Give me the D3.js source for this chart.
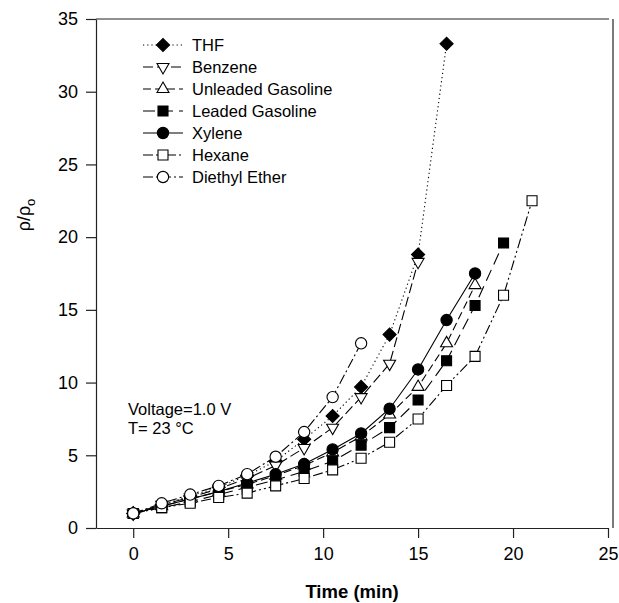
<!DOCTYPE html>
<html>
<head>
<meta charset="utf-8">
<script src="https://cdn.jsdelivr.net/npm/d3@7"></script>
<style>
  body { margin: 0; background: #fff; }
  svg text { font-family: "Liberation Sans", Arial, sans-serif; fill: #000; }
</style>
</head>
<body>
<div id="chart"></div>
<script>
// sampling times (min), every 1.5 min
const times = [0, 1.5, 3, 4.5, 6, 7.5, 9, 10.5, 12, 13.5, 15, 16.5, 18, 19.5, 21];

// rho/rho0
const thf      = [1, 1.6, 2.2, 2.8, 3.6, 4.6, 6.1, 7.7, 9.7, 13.3, 18.8, 33.3];
const benzene  = [1, 1.6, 2.1, 2.7, 3.4, 4.3, 5.5, 6.9, 9.0, 11.3, 18.3];
const unleaded = [1, 1.5, 2.0, 2.5, 3.0, 3.6, 4.3, 5.2, 6.3, 7.8, 9.7, 12.7, 16.7];
const leaded   = [1, 1.4, 1.8, 2.3, 2.8, 3.3, 3.9, 4.6, 5.7, 6.9, 8.8, 11.5, 15.3, 19.6];
const xylene   = [1, 1.5, 2.0, 2.5, 3.1, 3.7, 4.4, 5.4, 6.5, 8.2, 10.9, 14.3, 17.5];
const hexane   = [1, 1.4, 1.7, 2.1, 2.4, 2.9, 3.4, 4.0, 4.8, 5.9, 7.5, 9.8, 11.8, 16.0, 22.5];
const diethyl  = [1, 1.7, 2.3, 2.9, 3.7, 4.9, 6.6, 9.0, 12.7];

const seriesNames = ["THF", "Benzene", "Unleaded Gasoline", "Leaded Gasoline", "Xylene", "Hexane", "Diethyl Ether"];
const seriesValues = [thf, benzene, unleaded, leaded, xylene, hexane, diethyl];

const xTicks = [0, 5, 10, 15, 20, 25];
const yTicks = [0, 5, 10, 15, 20, 25, 30, 35];

// marker / dash style per series
const styles = [
    { shape: "diamond", fill: "#000", dash: "1.2,3" },
    { shape: "down",    fill: "#fff", dash: "10,4" },
    { shape: "up",      fill: "#fff", dash: "8,4" },
    { shape: "square",  fill: "#000", dash: "12,6" },
    { shape: "circle",  fill: "#000", dash: null },
    { shape: "square",  fill: "#fff", dash: "10,3,2,3,2,3" },
    { shape: "circle",  fill: "#fff", dash: "10,3,2,3" }
];

const W = 619, H = 603;
const plot = { left: 96, right: 608, top: 19, bottom: 528 };

const svg = d3.select("#chart").append("svg")
    .attr("width", W)
    .attr("height", H);

const x = d3.scaleLinear().domain([-1.96, 25]).range([plot.left, plot.right]);
const y = d3.scaleLinear().domain([0, 35]).range([plot.bottom, plot.top]);

function symbolPath(shape) {
    if (shape === "diamond") return d3.symbol(d3.symbolSquare, 86)();
    if (shape === "square") return d3.symbol(d3.symbolSquare, 100)();
    if (shape === "circle") return d3.symbol(d3.symbolCircle, 100)();
    return d3.symbol(d3.symbolTriangle, 62)();
}
function symbolRotate(shape) {
    if (shape === "diamond") return 45;
    if (shape === "down") return 180;
    return 0;
}

// axes
const xAxis = d3.axisBottom(x).tickValues(xTicks).tickSize(10).tickSizeOuter(0).tickPadding(9);
const yAxis = d3.axisLeft(y).tickValues(yTicks).tickSize(10).tickSizeOuter(0).tickPadding(8);

const gx = svg.append("g")
    .attr("transform", `translate(0,${plot.bottom})`)
    .call(xAxis);
const gy = svg.append("g")
    .attr("transform", `translate(${plot.left},0)`)
    .call(yAxis);

[gx, gy].forEach(g => {
    g.selectAll("path, line").attr("stroke", "#222").attr("stroke-width", 1.2);
    g.selectAll("text").style("font-size", "18px").attr("fill", "#000");
});

// top and right frame
svg.append("line")
    .attr("x1", plot.left).attr("x2", plot.right + 1)
    .attr("y1", plot.top).attr("y2", plot.top)
    .attr("stroke", "#222").attr("stroke-width", 1.2);
svg.append("line")
    .attr("x1", plot.right + 5).attr("x2", plot.right + 5)
    .attr("y1", plot.top).attr("y2", plot.bottom)
    .attr("stroke", "#222").attr("stroke-width", 1.2);

// axis titles
svg.append("text")
    .attr("x", (plot.left + plot.right) / 2)
    .attr("y", 598)
    .attr("text-anchor", "middle")
    .style("font-size", "18.5px")
    .style("font-weight", "bold")
    .text("Time (min)");

const ylab = svg.append("text")
    .attr("transform", `translate(30,215) rotate(-90)`)
    .attr("text-anchor", "middle")
    .style("font-size", "18px");
ylab.append("tspan").text("ρ/ρ");
ylab.append("tspan").attr("dy", 5).style("font-size", "13px").text("o");

// lines
const line = d3.line()
    .x(d => x(d[0]))
    .y(d => y(d[1]));

seriesValues.forEach((vals, i) => {
    const pts = vals.map((v, j) => [times[j], v]);
    svg.append("path")
        .datum(pts)
        .attr("d", line)
        .attr("fill", "none")
        .attr("stroke", "#000")
        .attr("stroke-width", 1.1)
        .attr("stroke-dasharray", styles[i].dash);
});

// markers
seriesValues.forEach((vals, i) => {
    const st = styles[i];
    svg.append("g")
        .selectAll("path")
        .data(vals.map((v, j) => [times[j], v]))
        .enter()
        .append("path")
        .attr("d", symbolPath(st.shape))
        .attr("transform", d => `translate(${x(d[0])},${y(d[1])}) rotate(${symbolRotate(st.shape)})`)
        .attr("fill", st.fill)
        .attr("stroke", "#000")
        .attr("stroke-width", 1.1);
});

// legend
const legend = svg.append("g").attr("transform", "translate(143,45)");
seriesNames.forEach((name, i) => {
    const st = styles[i];
    const row = legend.append("g").attr("transform", `translate(0,${i * 22})`);
    row.append("line")
        .attr("x1", 0).attr("x2", 40)
        .attr("stroke", "#000")
        .attr("stroke-width", 1.1)
        .attr("stroke-dasharray", st.dash);
    row.append("path")
        .attr("d", symbolPath(st.shape))
        .attr("transform", `translate(20,0) rotate(${symbolRotate(st.shape)})`)
        .attr("fill", st.fill)
        .attr("stroke", "#000")
        .attr("stroke-width", 1.1);
    row.append("text")
        .attr("x", 49)
        .attr("dy", "0.35em")
        .style("font-size", "16.5px")
        .text(name);
});

// conditions note
const note = svg.append("text").style("font-size", "16.5px");
note.append("tspan").attr("x", 128).attr("y", 415).text("Voltage=1.0 V");
note.append("tspan").attr("x", 128).attr("y", 434).text("T= 23 °C");
</script>
</body>
</html>
